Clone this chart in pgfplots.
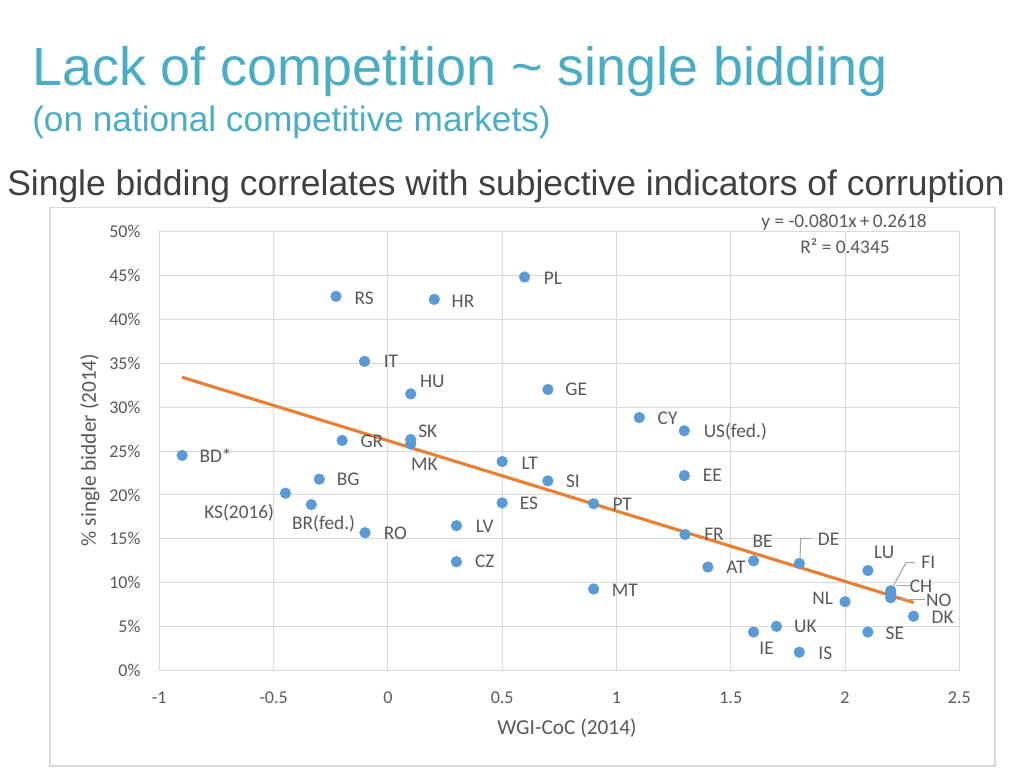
\documentclass[border=0pt]{standalone}
\usepackage{pgfplots}
\pgfplotsset{compat=1.18}
\usepackage{fontspec}
\setmainfont{Liberation Sans}
\newfontfamily\calfont{Carlito}
\definecolor{ttl}{HTML}{4BACC6}
\definecolor{sub}{HTML}{404040}
\definecolor{gridc}{HTML}{D9D9D9}
\definecolor{tickc}{HTML}{595959}
\definecolor{ptc}{HTML}{5B9BD5}
\definecolor{trend}{HTML}{ED7D31}
\definecolor{leader}{HTML}{A6A6A6}

\begin{document}
\begin{tikzpicture}[x=0.75pt,y=0.75pt]
\useasboundingbox (0,0) rectangle (1024,768);
\fill[white] (0,0) rectangle (1024,768);
% titles
\node[anchor=base west, inner sep=0pt, text=ttl, font=\fontsize{40.4}{44}\selectfont] at (32,{768-86}) {Lack of competition \char`\~{} single bidding};
\node[anchor=base west, inner sep=0pt, text=ttl, font=\fontsize{26.4}{30}\selectfont] at (32,{768-132}) {(on national competitive markets)};
\node[anchor=base west, inner sep=0pt, text=sub, font=\fontsize{26.6}{30}\selectfont] at (7,{768-196}) {Single bidding correlates with subjective indicators of corruption};
% chart border
\draw[gridc, line width=1.2pt] (50,{768-207.5}) rectangle (995,{768-766});
\begin{axis}[
  at={(119.475pt,72.975pt)}, anchor=south west,
  scale only axis, width=600pt, height=329.55pt,
  xmin=-1, xmax=2.5, ymin=0, ymax=50,
  xtick={-1,-0.5,0,0.5,1,1.5,2,2.5},
  ytick={0,5,10,15,20,25,30,35,40,45,50},
  grid=major, grid style={draw=gridc, line width=0.75pt},
  axis line style={draw=gridc, line width=0.9pt},
  major tick length=0pt,
  /pgf/number format/assume math mode=true,
  tick label style={font=\calfont\fontsize{13.5}{15}\selectfont, text=tickc, inner sep=0pt},
  yticklabel={\pgfmathprintnumber{\tick}\%},
  yticklabel style={anchor=east, xshift=-14pt},
  xticklabel style={anchor=center, yshift=-20pt},
  clip=false,
]
\addplot[only marks, mark=*, mark size=4pt, color=ptc, mark options={draw=ptc, fill=ptc},
  nodes near coords, point meta=explicit symbolic,
  visualization depends on={\thisrow{dx}\as\lblx},
  visualization depends on={\thisrow{dy}\as\lbly},
  nodes near coords style={anchor=center, inner sep=0pt, text=tickc, font=\calfont\fontsize{14.5}{16}\selectfont, xshift={0.75pt*\lblx}, yshift={-0.75pt*\lbly}},
] table[x=x, y=y, meta=lab] {
x y lab dx dy
-0.90 24.5 BD* 33.4 0.7
-0.227 42.6 RS 28.3 1.7
0.203 42.25 HR 28.7 1.4
-0.102 35.2 IT 26.4 0
0.10 31.5 HU 21.6 -12.3
-0.20 26.2 GR 29.7 1
0.10 26.3 SK 17 -8.5
0.10 25.8 MK 13.6 20.1
0.50 23.8 LT 27.6 1.6
-0.30 21.8 BG 29 0
-0.448 20.2 KS(2016) -46.3 19.4
-0.335 18.9 BR(fed.) 12.3 19
-0.10 15.7 RO 30.3 0.6
0.30 16.5 LV 28.4 0.4
0.30 12.4 CZ 28.4 0
0.50 19.1 ES 26.7 0
0.598 44.8 PL 28.4 1.3
0.70 32.0 GE 28.4 0
1.10 28.8 CY 28.3 0.4
1.297 27.3 US(fed.) 51 1.4
1.297 22.2 EE 28 0
0.70 21.6 SI 25 0.7
0.90 19.0 PT 28.6 1
1.30 15.5 FR 29 0
1.40 11.8 AT 28 0.4
1.60 12.5 BE 9 -19.3
1.80 12.2 DE 29.3 -24.3
0.90 9.3 MT 31.3 1.4
2.10 11.4 LU 16.3 -18
2.20 9.1 FI 37.6 -28
2.20 8.7 CH 30.3 -8.2
2.20 8.3 NO 48 2.3
2.00 7.85 NL -22.3 -3.4
2.30 6.2 DK 29 1.3
2.10 4.4 SE 27 1.7
1.70 5.05 UK 29 0.4
1.60 4.4 IE 13 16.4
1.80 2.1 IS 26 1
};
\addplot[trend, line width=2.3pt, no marks] coordinates {(-0.9,33.39) (2.3,7.76)};
\end{axis}
% leader lines
\draw[leader, line width=0.8pt] (800,{768-559}) -- (800.7,{768-538.3}) -- (811,{768-538.3});
\draw[leader, line width=0.8pt] (893,{768-586.5}) -- (906,{768-562.7}) -- (915,{768-562.7});
\draw[leader, line width=0.8pt] (897,{768-585.7}) -- (909.5,{768-585.7});
\draw[leader, line width=0.8pt] (897,{768-599.3}) -- (925,{768-599.3});
% equation
\node[text=tickc, font=\calfont\fontsize{14.5}{16}\selectfont, inner sep=0pt] at (844,{768-222}) {y = -0.0801x\,+\,0.2618};
\node[text=tickc, font=\calfont\fontsize{14.5}{16}\selectfont, inner sep=0pt] at (845,{768-246}) {R² = 0.4345};
% axis titles
\node[text=tickc, font=\calfont\fontsize{16}{18}\selectfont, inner sep=0pt] at (567,{768-728}) {WGI-CoC (2014)};
\node[text=tickc, font=\calfont\fontsize{16}{18}\selectfont, inner sep=0pt, rotate=90] at (90,{768-450}) {\% single bidder (2014)};
\end{tikzpicture}
\end{document}
